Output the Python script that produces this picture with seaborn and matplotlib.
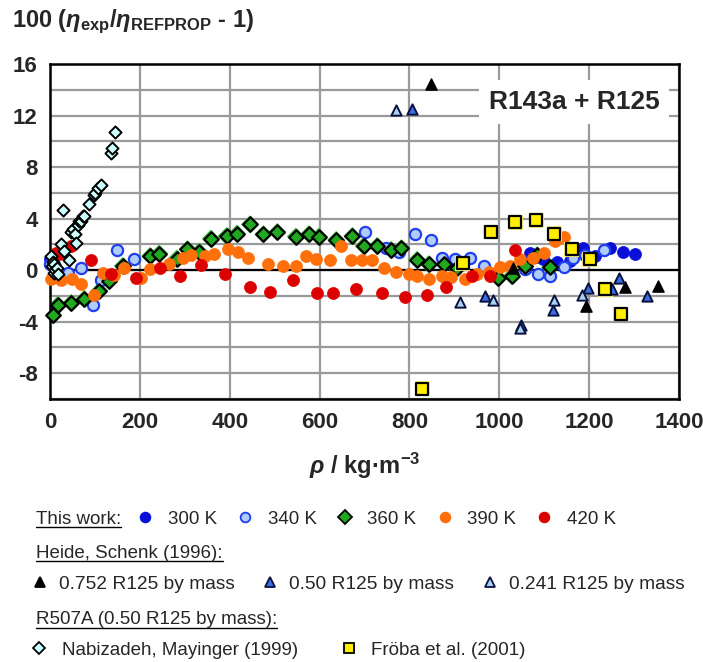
import numpy as np
import pandas as pd
import matplotlib
matplotlib.use("Agg")
import matplotlib.pyplot as plt
import seaborn as sns
from matplotlib.lines import Line2D

# ---- data (density in kg/m3, deviation in %) ----
rho_300 = [0, 1060, 1069, 1098, 1128, 1158, 1187, 1213, 1232, 1247, 1276, 1302]
dev_300 = [0.9, 0.2, 1.3, 0.9, 0.64, 0.72, 1.7, 1.06, 1.6, 1.75, 1.41, 1.24]

rho_340 = [0, 39, 69, 95, 113, 150, 187, 702, 747, 776, 812, 847, 873, 902,
           934, 965, 1058, 1087, 1113, 1143, 1165, 1190, 1232]
dev_340 = [0.5, -0.2, 0.2, -2.7, -0.75, 1.6, 0.85, 3.0, 1.75, 1.4, 2.84, 2.35,
           0.98, 0.85, 0.98, 0.29, 0.1, -0.26, -0.44, 0.21, 0.98, 1.2, 1.57]

rho_360 = [6, 17, 47, 76, 110, 132, 162, 223, 243, 282, 306, 332, 358, 393,
           416, 445, 475, 506, 547, 576, 598, 637, 673, 698, 728, 759, 782,
           817, 843, 878, 906, 998, 1028, 1058, 1084, 1113]
dev_360 = [-3.48, -2.7, -2.55, -2.24, -1.6, -0.82, 0.33, 1.1, 1.29, 0.9, 1.62,
           1.44, 2.45, 2.65, 2.84, 3.55, 2.78, 2.96, 2.6, 2.78, 2.6, 2.34, 2.65,
           1.88, 1.88, 1.57, 1.7, 0.8, 0.46, 0.46, 0.13, -0.62, -0.44, 0.29,
           1.16, 0.21]

rho_390 = [2, 24, 50, 69, 98, 117, 143, 165, 202, 223, 265, 295, 313, 344,
           365, 397, 418, 441, 485, 519, 547, 569, 591, 624, 647, 669, 695,
           717, 743, 769, 798, 817, 843, 873, 893, 924, 950, 976, 1002, 1024,
           1047, 1076, 1100, 1124, 1143]
dev_390 = [-0.7, -0.8, -0.7, -1.1, -1.93, -0.23, -0.39, 0.13, -0.64, 0.08,
           0.46, 0.98, 1.16, 1.06, 1.24, 1.68, 1.42, 0.98, 0.46, 0.29, 0.29,
           1.1, 0.85, 0.8, 1.88, 0.8, 0.8, 0.8, 0.13, -0.18, -0.31, -0.44,
           -0.7, -0.44, -0.57, -0.7, -0.31, -0.13, 0.21, 0.29, 0.9, 0.98,
           1.37, 2.27, 2.6]

rho_420 = [13, 21, 47, 91, 136, 191, 245, 289, 336, 389, 445, 490, 541, 595,
           630, 682, 739, 790, 839, 882, 939, 980, 1036]
dev_420 = [1.37, 1.24, 1.9, 0.8, -0.31, -0.64, 0.13, -0.44, 0.41, -0.31,
           -1.34, -1.68, -0.75, -1.8, -1.8, -1.47, -1.8, -2.11, -1.93, -1.34,
           -0.44, -0.44, 1.57]

# Heide, Schenk (1996)
rho_h752 = [847, 1030, 1193, 1280, 1354]
dev_h752 = [14.45, 0.13, -2.8, -1.34, -1.21]
rho_h50 = [806, 969, 1048, 1119, 1198, 1250, 1267, 1328]
dev_h50 = [12.5, -2.03, -4.25, -3.07, -1.41, -1.47, -0.62, -1.98]
rho_h241 = [769, 912, 987, 1047, 1122, 1184]
dev_h241 = [12.4, -2.45, -2.29, -4.51, -2.29, -1.93]

# R507A
rho_nab = [2, 4, 6, 8, 10, 12, 15, 18, 24, 28, 32, 43, 47, 52, 56, 58, 63,
           65, 70, 73, 76, 87, 98, 101, 106, 113, 136, 139, 145]
dev_nab = [1.1, 0.3, 0.6, -0.2, 0.5, 0.0, 0.2, -0.3, 2.0, 4.7, 1.5, 0.8, 3.0,
           3.2, 2.8, 2.1, 3.5, 3.8, 3.8, 4.2, 4.2, 5.1, 5.8, 6.0, 6.4, 6.6,
           9.1, 9.5, 10.7]
rho_froba = [829, 919, 981, 1036, 1082, 1122, 1161, 1201, 1236, 1270]
dev_froba = [-9.2, 0.52, 2.96, 3.73, 3.86, 2.84, 1.62, 0.85, -1.47, -3.4]

# ---- styles ----
styles = {
    "300 K": dict(marker="o", s=75, color="#0a10d8", edgecolor="#0a10d8", linewidth=0.5),
    "340 K": dict(marker="o", s=65, color="#b0ccf8", edgecolor="#1f3ff0", linewidth=1.6),
    "360 K": dict(marker="D", s=55, color="#20a820", edgecolor="black", linewidth=1.6),
    "390 K": dict(marker="o", s=75, color="#ff6f0a", edgecolor="#ff6f0a", linewidth=0.5),
    "420 K": dict(marker="o", s=75, color="#dd0000", edgecolor="#dd0000", linewidth=0.5),
    "0.752 R125 by mass": dict(marker="^", s=65, color="black", edgecolor="black", linewidth=1.0),
    "0.50 R125 by mass": dict(marker="^", s=55, color="#3a6ee0", edgecolor="#0a1040", linewidth=1.4),
    "0.241 R125 by mass": dict(marker="^", s=55, color="#a8d4f4", edgecolor="#0a1040", linewidth=1.4),
    "Nabizadeh, Mayinger (1999)": dict(marker="D", s=38, color="#ccffff", edgecolor="black", linewidth=1.4),
    "Fröba et al. (2001)": dict(marker="s", s=75, color="#ffee00", edgecolor="black", linewidth=1.6),
}

series = [
    ("300 K", rho_300, dev_300),
    ("340 K", rho_340, dev_340),
    ("360 K", rho_360, dev_360),
    ("390 K", rho_390, dev_390),
    ("420 K", rho_420, dev_420),
    ("0.752 R125 by mass", rho_h752, dev_h752),
    ("0.50 R125 by mass", rho_h50, dev_h50),
    ("0.241 R125 by mass", rho_h241, dev_h241),
    ("Nabizadeh, Mayinger (1999)", rho_nab, dev_nab),
    ("Fröba et al. (2001)", rho_froba, dev_froba),
]

sns.set_style("white")
plt.rcParams["font.family"] = ["Liberation Sans", "DejaVu Sans"]
plt.rcParams["mathtext.fontset"] = "custom"
plt.rcParams["mathtext.rm"] = "Liberation Sans:bold"
plt.rcParams["mathtext.bf"] = "Liberation Sans:bold"
plt.rcParams["mathtext.it"] = "Liberation Sans:bold:italic"

fig = plt.figure(figsize=(7.03, 6.62), dpi=100)
ax = fig.add_axes([50 / 703, 1 - 399 / 662, 629 / 703, 335 / 662])

ax.set_xlim(0, 1400)
ax.set_ylim(-10, 16)
ax.set_xticks(np.arange(0, 1401, 200))
ax.set_xticks(np.arange(100, 1400, 200), minor=True)
yt = np.arange(-10, 17, 2)
ax.set_yticks(yt)
ax.set_yticklabels([str(v) if v % 4 == 0 and v > -10 else "" for v in yt])
ax.set_yticks(np.arange(-9, 16, 2), minor=True)
ax.grid(True, which="major", color="#9a9a9a", lw=1.6, zorder=0)
ax.axhline(0, color="black", lw=1.6, zorder=1)
for sp in ax.spines.values():
    sp.set_color("black")
    sp.set_linewidth(1.8)
ax.tick_params(which="both", direction="in", color="black", width=1.2)
ax.tick_params(which="major", length=0, labelsize=16, pad=9)
ax.tick_params(which="minor", length=5)
for lab in ax.get_xticklabels() + ax.get_yticklabels():
    lab.set_fontweight("bold")

# halo underneath some markers
sns.scatterplot(x=rho_360, y=dev_360, marker="D", s=85, color="#40c040",
                edgecolor="none", ax=ax, zorder=2, legend=False)
sns.scatterplot(x=rho_froba, y=dev_froba, marker="s", s=115, color="#fff27a",
                edgecolor="none", ax=ax, zorder=9, legend=False)

for i, (name, xs, ys) in enumerate(series):
    df = pd.DataFrame({"rho": xs, "dev": ys})
    st = styles[name]
    sns.scatterplot(data=df, x="rho", y="dev", ax=ax, legend=False,
                    zorder=3 + i, clip_on=False, **st)

ax.set_xlabel("")
ax.set_ylabel("")

ax.text(0.833, 0.887, "R143a + R125", transform=ax.transAxes, ha="center",
        va="center", fontsize=19, fontweight="bold", zorder=20,
        bbox=dict(facecolor="white", edgecolor="none", pad=7))

fig.text(12 / 703, 1 - 22 / 662,
         r"100 ($\eta_{\mathrm{exp}}$/$\eta_{\mathrm{REFPROP}}$ - 1)",
         fontsize=17, fontweight="bold", va="center", ha="left")
fig.text(365 / 703, 1 - 466 / 662, r"$\rho$ / kg·m$^{\mathrm{-3}}$",
         fontsize=17, fontweight="bold", va="center", ha="center")


# ---- legend block ----
def handle(name, ms):
    st = styles[name]
    return Line2D([], [], ls="none", marker=st["marker"], ms=ms,
                  mfc=st["color"], mec=st["edgecolor"], mew=1.3, label=name)


lg_kw = dict(frameon=False, handlelength=1.0,
             borderpad=0, borderaxespad=0, loc="center left")

row1 = [handle(n, 7) for n in ["300 K", "340 K", "360 K", "390 K", "420 K"]]
fig.legend(handles=row1, ncol=5, columnspacing=1.0, fontsize=13.5, handletextpad=0.7,
           bbox_to_anchor=(136 / 703, 1 - 519 / 662), **lg_kw)
row3 = [handle(n, 7) for n in ["0.752 R125 by mass", "0.50 R125 by mass", "0.241 R125 by mass"]]
fig.legend(handles=row3, ncol=3, columnspacing=1.35, fontsize=13.8, handletextpad=0.5,
           bbox_to_anchor=(30 / 703, 1 - 584 / 662), **lg_kw)
row5 = [handle("Nabizadeh, Mayinger (1999)", 6), handle("Fröba et al. (2001)", 7)]
fig.legend(handles=row5, ncol=2, columnspacing=2.2, fontsize=13.5, handletextpad=0.7,
           bbox_to_anchor=(30 / 703, 1 - 650 / 662), **lg_kw)

headers = [("This work:", 519), ("Heide, Schenk (1996):", 553),
           ("R507A (0.50 R125 by mass):", 620)]
htexts = [fig.text(36 / 703, 1 - yy / 662, t, fontsize=13.5, va="center", ha="left")
          for t, yy in headers]
fig.canvas.draw()
r = fig.canvas.get_renderer()
inv = fig.transFigure.inverted()
for t in htexts:
    bb = t.get_window_extent(r)
    (x0, y0), (x1, _) = inv.transform([(bb.x0, bb.y0 + 1), (bb.x1, bb.y0 + 1)])
    fig.add_artist(Line2D([x0, x1], [y0, y0], color="black", lw=1.0))

fig.savefig("out.png", dpi=100)
